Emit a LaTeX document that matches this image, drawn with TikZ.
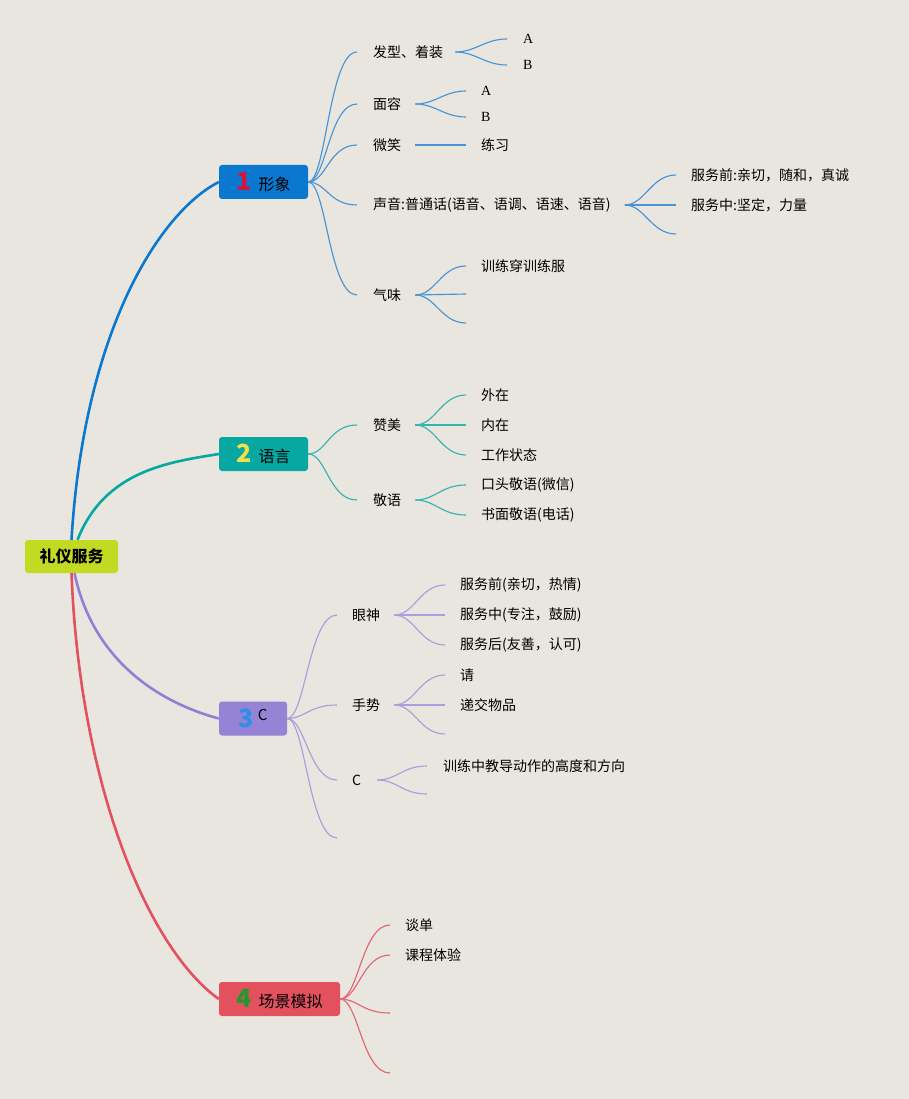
\documentclass[tikz,border=0pt]{standalone}
\usepackage{fontspec}
\setmainfont{Noto Sans CJK SC}
\newfontfamily\latinserif{Liberation Serif}
\usetikzlibrary{calc}
\definecolor{bg}{HTML}{E8E6DE}
\definecolor{rootc}{HTML}{C2DB22}
\definecolor{bluebox}{HTML}{0B78D0}
\definecolor{bluel}{HTML}{4A94D6}
\definecolor{tealbox}{HTML}{08A8A2}
\definecolor{teall}{HTML}{34B5AD}
\definecolor{purpbox}{HTML}{9583D6}
\definecolor{purpmain}{HTML}{9180D4}
\definecolor{purpl}{HTML}{AC9DDF}
\definecolor{redbox}{HTML}{E3515F}
\definecolor{redl}{HTML}{E56574}
\definecolor{nred}{HTML}{D0163E}
\definecolor{nyellow}{HTML}{F1E04A}
\definecolor{nblue}{HTML}{2D8FE6}
\definecolor{ngreen}{HTML}{1E9A30}
\begin{document}
\begin{tikzpicture}[x=1pt,y=-1pt,
  txt/.style={anchor=west, inner sep=0pt, font=\fontsize{14}{16}\selectfont, text=black},
  ltxt/.style={anchor=west, inner sep=0pt, font=\latinserif\fontsize{14}{16}\selectfont, text=black},
  topic/.style={rounded corners=3pt, minimum height=34pt, inner sep=0pt, font=\fontsize{16}{18}\selectfont, text=black},
  mainline/.style={line width=2.6pt},
  subline/.style={line width=1.15pt}]
\useasboundingbox (0,0) rectangle (909,1099);
\fill[bg] (0,0) rectangle (909,1099);

% root and topics
\node[topic, fill=rootc, minimum width=93pt, minimum height=33pt, font=\fontsize{16}{18}\selectfont\bfseries] (root) at (71.5,556.5) {礼仪服务};
\node[topic, fill=bluebox, minimum width=89pt] (t1) at (263.5,182) {{\fontsize{25}{25}\selectfont\bfseries\color{nred}1}\hspace{7pt}形象};
\node[topic, fill=tealbox, minimum width=89pt] (t2) at (263.5,454) {{\fontsize{25}{25}\selectfont\bfseries\color{nyellow}2}\hspace{7pt}语言};
\node[topic, fill=purpbox, minimum width=68pt] (t3) at (253,718.5) {{\fontsize{25}{25}\selectfont\bfseries\color{nblue}3}\hspace{4pt}\raisebox{7pt}{\fontsize{15}{16}\selectfont C}};
\node[topic, fill=redbox, minimum width=121pt] (t4) at (279.5,999) {{\fontsize{25}{25}\selectfont\bfseries\color{ngreen}4}\hspace{7pt}场景模拟};

% main branches
\draw[mainline, bluebox] (root.north) .. controls (84,330) and (160,212) .. (t1.west);
\draw[mainline, tealbox] ([xshift=6pt]root.north) .. controls (105,470) and (170,462) .. (t2.west);
\draw[mainline, purpmain] ([xshift=3pt]root.south) .. controls (95,670) and (172,706) .. (t3.west);
\draw[mainline, redbox] (root.south) .. controls (80,790) and (150,950) .. (t4.west);

% ---------- branch 1 ----------
\node[txt] (fx) at (373,52) {发型、着装};
\node[txt] (mr) at (373,104) {面容};
\node[txt] (wx) at (373,145) {微笑};
\node[txt] (sy) at (373,205) {声音:普通话(语音、语调、语速、语音)};
\node[txt] (qw) at (373,295) {气味};
\foreach \c in {fx,mr,wx,sy,qw}
  \draw[subline, bluel] (t1.east) .. controls +(18,0) and +(-28,0) .. ([xshift=-16pt]\c.west);

\node[ltxt] (fxa) at (523,39) {A};
\node[ltxt] (fxb) at (523,65) {B};
\foreach \c in {fxa,fxb}
  \draw[subline, bluel] ([xshift=12pt]fx.east) .. controls +(20,0) and +(-22,0) .. ([xshift=-16pt]\c.west);

\node[ltxt] (mra) at (481,91) {A};
\node[ltxt] (mrb) at (481,117) {B};
\foreach \c in {mra,mrb}
  \draw[subline, bluel] ([xshift=14pt]mr.east) .. controls +(20,0) and +(-22,0) .. ([xshift=-15pt]\c.west);

\node[txt] (lx) at (481,145) {练习};
\draw[subline, bluel] ([xshift=14pt]wx.east) -- ([xshift=-15pt]lx.west);

\node[txt] (syq) at (691,175) {服务前:亲切，随和，真诚};
\node[txt] (syz) at (691,205) {服务中:坚定，力量};
\coordinate (syh) at (676,234);
\draw[subline, bluel] ([xshift=14pt]sy.east) .. controls +(20,0) and +(-25,0) .. ([xshift=-15pt]syq.west);
\draw[subline, bluel] ([xshift=14pt]sy.east) -- ([xshift=-15pt]syz.west);
\draw[subline, bluel] ([xshift=14pt]sy.east) .. controls +(20,0) and +(-25,0) .. (syh);

\node[txt] (qwa) at (481,266) {训练穿训练服};
\coordinate (qwb) at (466,294);
\coordinate (qwc) at (466,323);
\draw[subline, bluel] ([xshift=14pt]qw.east) .. controls +(20,0) and +(-25,0) .. ([xshift=-15pt]qwa.west);
\draw[subline, bluel] ([xshift=14pt]qw.east) -- (qwb);
\draw[subline, bluel] ([xshift=14pt]qw.east) .. controls +(20,0) and +(-25,0) .. (qwc);

% ---------- branch 2 ----------
\node[txt] (zm) at (373,425) {赞美};
\node[txt] (jy) at (373,500) {敬语};
\foreach \c in {zm,jy}
  \draw[subline, teall] (t2.east) .. controls +(18,0) and +(-28,0) .. ([xshift=-16pt]\c.west);

\node[txt] (zma) at (481,395) {外在};
\node[txt] (zmb) at (481,425) {内在};
\node[txt] (zmc) at (481,455) {工作状态};
\foreach \c in {zma,zmb,zmc}
  \draw[subline, teall] ([xshift=14pt]zm.east) .. controls +(20,0) and +(-25,0) .. ([xshift=-15pt]\c.west);

\node[txt] (jya) at (481,485) {口头敬语(微信)};
\node[txt] (jyb) at (481,515) {书面敬语(电话)};
\foreach \c in {jya,jyb}
  \draw[subline, teall] ([xshift=14pt]jy.east) .. controls +(20,0) and +(-25,0) .. ([xshift=-15pt]\c.west);

% ---------- branch 3 ----------
\node[txt] (ys) at (352,615) {眼神};
\node[txt] (ss) at (352,705) {手势};
\node[txt] (cc) at (352,780) {C};
\coordinate (ce) at (337,838);
\foreach \c in {ys,ss,cc}
  \draw[subline, purpl] (t3.east) .. controls +(18,0) and +(-28,0) .. ([xshift=-15pt]\c.west);
\draw[subline, purpl] (t3.east) .. controls +(18,0) and +(-28,0) .. (ce);

\node[txt] (ysa) at (460,585) {服务前(亲切，热情)};
\node[txt] (ysb) at (460,615) {服务中(专注，鼓励)};
\node[txt] (ysc) at (460,645) {服务后(友善，认可)};
\foreach \c in {ysa,ysb,ysc}
  \draw[subline, purpl] ([xshift=14pt]ys.east) .. controls +(20,0) and +(-25,0) .. ([xshift=-15pt]\c.west);

\node[txt] (ssa) at (460,675) {请};
\node[txt] (ssb) at (460,705) {递交物品};
\coordinate (ssc) at (445,734);
\draw[subline, purpl] ([xshift=14pt]ss.east) .. controls +(20,0) and +(-25,0) .. ([xshift=-15pt]ssa.west);
\draw[subline, purpl] ([xshift=14pt]ss.east) -- ([xshift=-15pt]ssb.west);
\draw[subline, purpl] ([xshift=14pt]ss.east) .. controls +(20,0) and +(-25,0) .. (ssc);

\node[txt] (cca) at (443,766) {训练中教导动作的高度和方向};
\coordinate (ccb) at (427,794);
\draw[subline, purpl] ([xshift=16pt]cc.east) .. controls +(20,0) and +(-25,0) .. ([xshift=-16pt]cca.west);
\draw[subline, purpl] ([xshift=16pt]cc.east) .. controls +(20,0) and +(-25,0) .. (ccb);

% ---------- branch 4 ----------
\node[txt] (td) at (405,925) {谈单};
\node[txt] (kc) at (405,955) {课程体验};
\coordinate (e4a) at (390,1013);
\coordinate (e4b) at (390,1073);
\foreach \c in {td,kc}
  \draw[subline, redl] (t4.east) .. controls +(18,0) and +(-28,0) .. ([xshift=-15pt]\c.west);
\draw[subline, redl] (t4.east) .. controls +(18,0) and +(-28,0) .. (e4a);
\draw[subline, redl] (t4.east) .. controls +(18,0) and +(-28,0) .. (e4b);
\end{tikzpicture}
\end{document}
